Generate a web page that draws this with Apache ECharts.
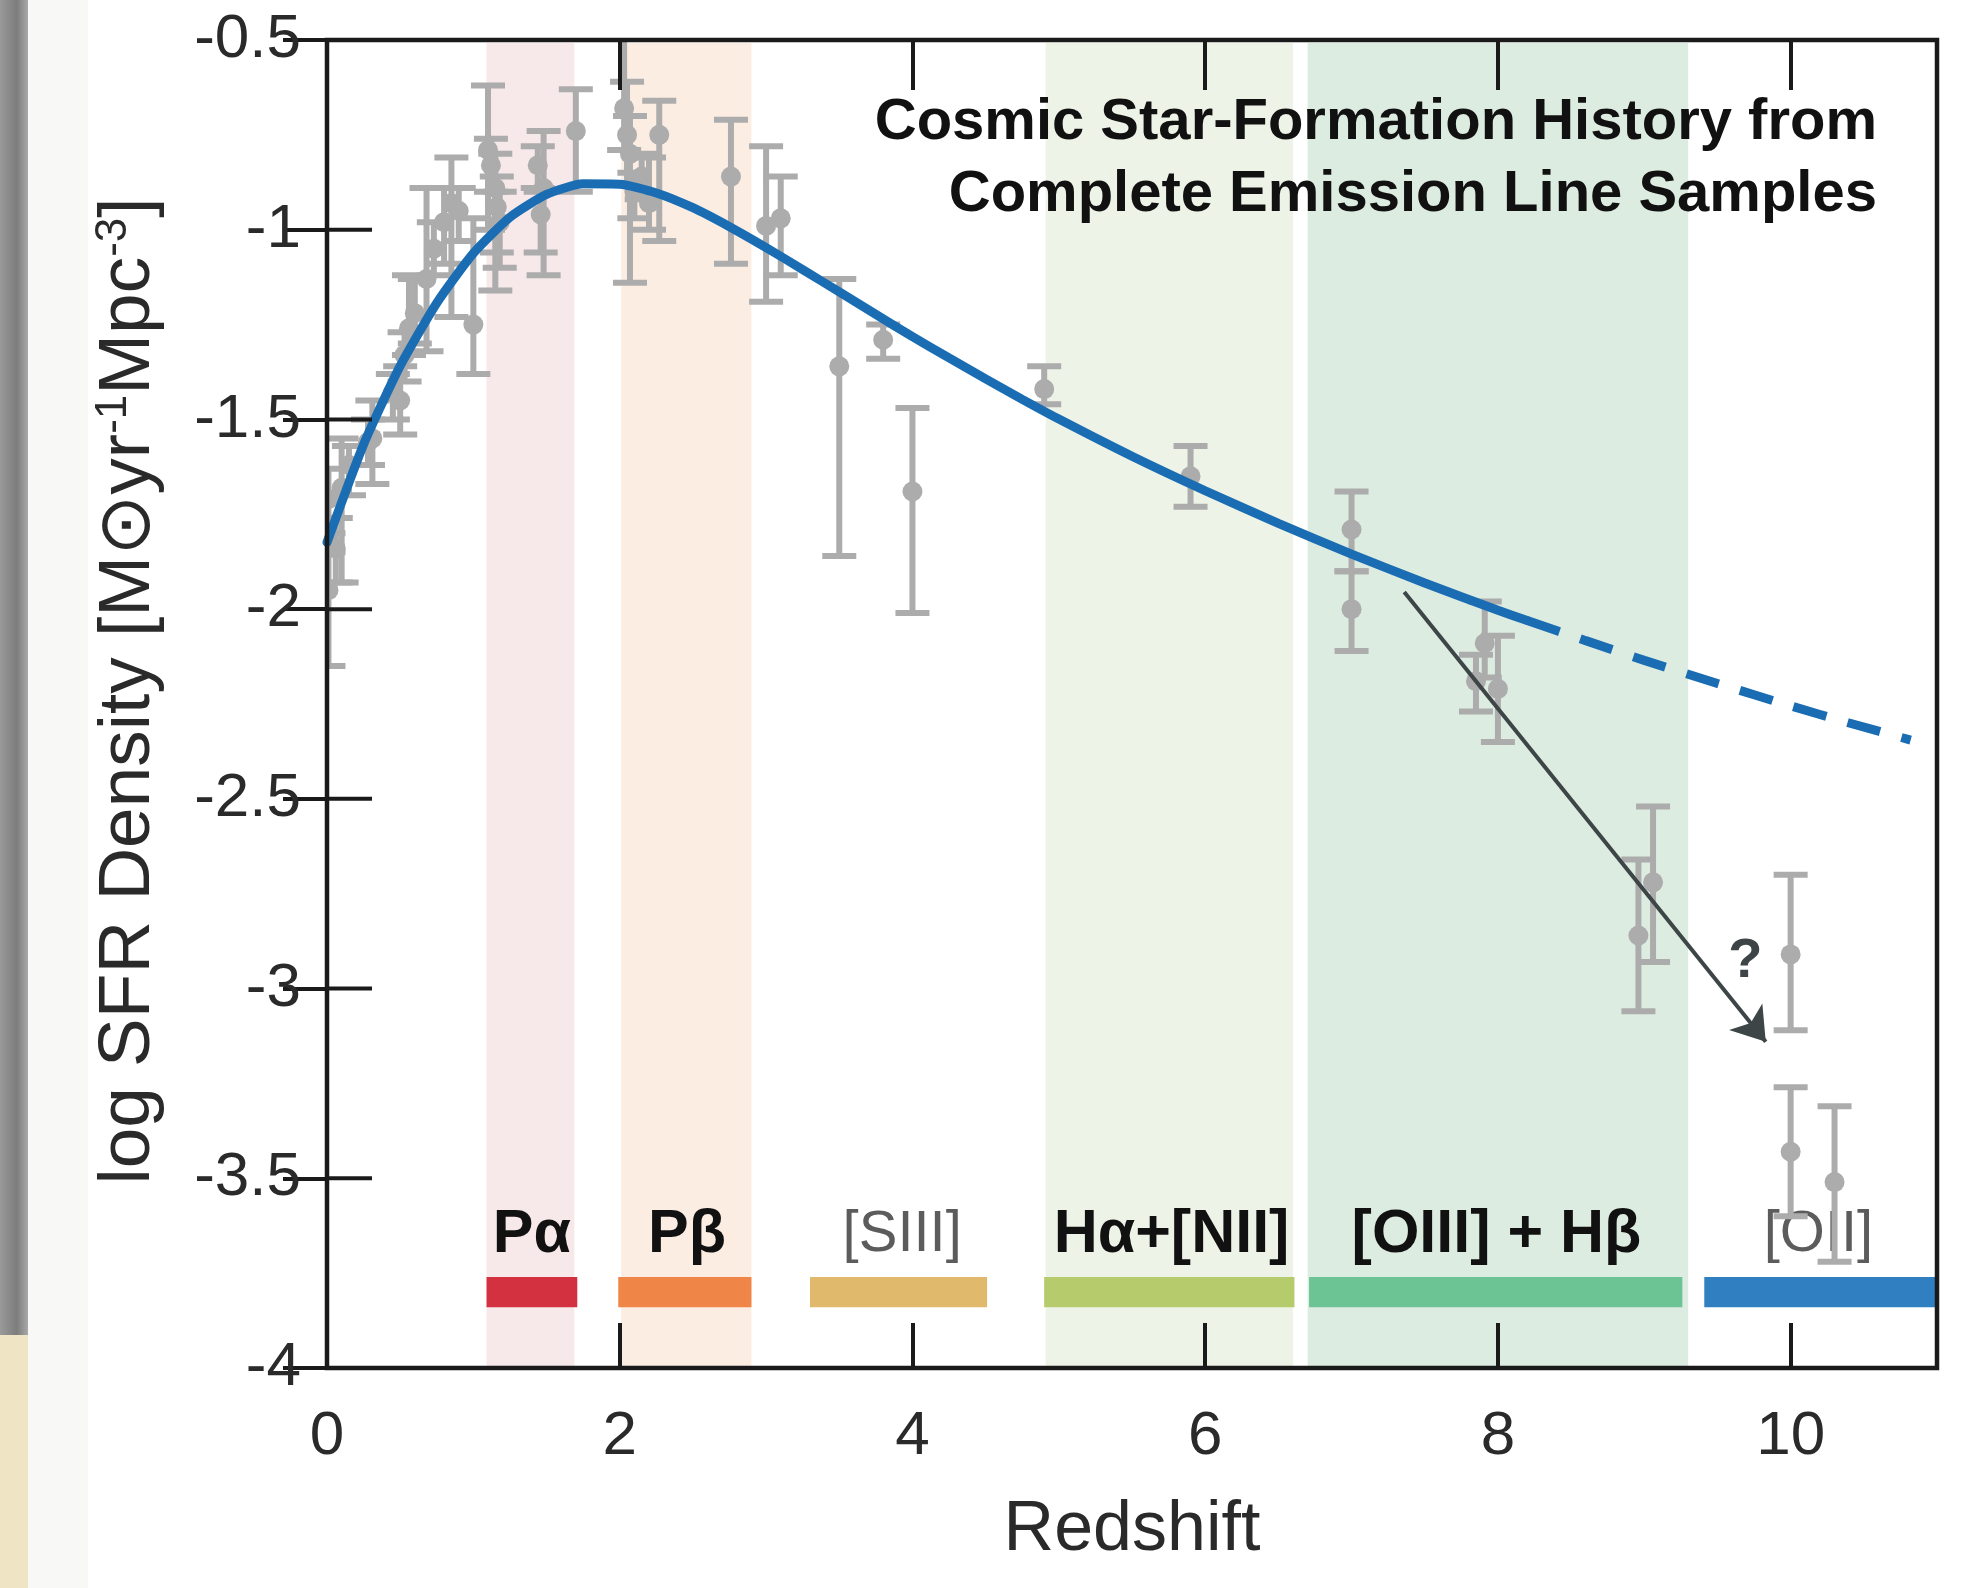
<!DOCTYPE html>
<html>
<head>
<meta charset="utf-8">
<script src="https://cdn.jsdelivr.net/npm/echarts@6/dist/echarts.min.js"></script>
<style>
html,body{margin:0;padding:0;background:#ffffff;}
#chart{width:1972px;height:1588px;}
</style>
</head>
<body>
<div id="chart"></div>
<script>
// ---------- data ----------
const xTickValues = [0, 2, 4, 6, 8, 10];
const yTickValues = [-0.5, -1, -1.5, -2, -2.5, -3, -3.5, -4];

// fitted cosmic SFR density curve (solid part, then dashed extrapolation)
const curveSolidZ  = [0, 0.25, 0.5, 0.75, 1.0, 1.25, 1.5, 1.75, 2.0, 2.25, 2.5, 2.75, 3.0, 3.25, 3.5, 3.75, 4.0, 4.25, 4.5, 4.75, 5.0, 5.5, 6.0, 6.5, 7.0, 7.5, 8.0, 8.2];
const curveSolidY  = [-1.824, -1.566, -1.359, -1.193, -1.062, -0.967, -0.907, -0.879, -0.880, -0.903, -0.942, -0.992, -1.047, -1.105, -1.164, -1.223, -1.282, -1.338, -1.393, -1.447, -1.499, -1.597, -1.688, -1.774, -1.855, -1.931, -2.003, -2.030];
const curveDashedZ = [8.2, 8.6, 9.0, 9.5, 10.0, 10.4, 10.82];
const curveDashedY = [-2.030, -2.083, -2.135, -2.196, -2.255, -2.300, -2.345];

// observations: redshift, value, upper end of error bar, lower end of error bar
const obsZ     = [0.01, 0.01, 0.06, 0.10, 0.15, 0.28, 0.31, 0.45, 0.50, 0.53, 0.56, 0.60, 0.68, 0.73, 0.80, 0.85, 0.90, 1.00, 1.10, 1.12, 1.15, 1.16, 1.18, 1.44, 1.46, 1.48, 1.70, 2.03, 2.05, 2.07, 2.10, 2.15, 2.20, 2.27, 2.76, 3.00, 3.10, 3.50, 3.80, 4.00, 4.90, 5.90, 7.00, 7.00, 7.85, 7.91, 8.00, 8.96, 9.06, 10.00, 10.00, 10.30];
const obsVal   = [-1.71, -1.95, -1.84, -1.68, -1.62, -1.56, -1.55, -1.43, -1.45, -1.33, -1.26, -1.22, -1.13, -1.05, -0.98, -0.93, -0.95, -1.25, -0.79, -0.83, -0.89, -0.94, -0.98, -0.83, -0.96, -0.89, -0.74, -0.68, -0.75, -0.80, -0.90, -0.86, -0.93, -0.75, -0.86, -0.99, -0.97, -1.36, -1.29, -1.69, -1.42, -1.65, -1.79, -2.00, -2.19, -2.09, -2.21, -2.86, -2.72, -2.91, -3.43, -3.51];
const obsUpper = [-1.63, -1.85, -1.76, -1.55, -1.57, -1.50, -1.45, -1.38, -1.36, -1.27, -1.12, -1.13, -0.89, -0.98, -0.89, -0.81, -0.89, -0.97, -0.62, -0.76, -0.80, -0.86, -0.90, -0.78, -0.90, -0.74, -0.63, -0.49, -0.61, -0.70, -0.85, -0.80, -0.81, -0.66, -0.71, -0.78, -0.86, -1.13, -1.25, -1.47, -1.36, -1.57, -1.69, -1.90, -2.12, -1.98, -2.07, -2.66, -2.52, -2.70, -3.26, -3.31];
const obsLower = [-1.80, -2.15, -1.93, -1.93, -1.70, -1.62, -1.67, -1.50, -1.54, -1.40, -1.33, -1.30, -1.32, -1.12, -1.09, -1.23, -1.03, -1.38, -1.00, -0.90, -1.16, -1.06, -1.10, -0.89, -1.06, -1.12, -0.90, -0.79, -0.88, -1.14, -0.97, -0.92, -1.00, -1.03, -1.09, -1.19, -1.12, -1.86, -1.34, -2.01, -1.46, -1.73, -1.90, -2.11, -2.27, -2.18, -2.35, -3.06, -2.93, -3.11, -3.60, -3.72];

// redshift windows of each emission line (shaded bands and coloured bars)
const lineNames    = ['Pα', 'Pβ', '[SIII]', 'Hα+[NII]', '[OIII] + Hβ', '[OII]'];
const lineBarStart = [1.09, 1.99, 3.30, 4.90, 6.71, 9.41];
const lineBarEnd   = [1.71, 2.90, 4.51, 6.61, 9.26, 11.0];
const lineLabelZ   = [1.40, 2.46, 3.93, 5.77, 7.99, 10.19];
const lineLabelY   = [-3.65, -3.65, -3.65, -3.65, -3.65, -3.65];
const lineBarY     = [-3.76, -3.84];

const shadeStart = [1.09, 2.01, 4.91, 6.70];
const shadeEnd   = [1.69, 2.90, 6.60, 9.30];

// the "?" arrow
const arrowStart = [7.36, -1.955];
const arrowEnd   = [9.83, -3.14];
const questionAt = [9.69, -2.93];

// ---------- styles ----------
const barColors   = ['#d3313f', '#ef8546', '#e0b96c', '#b6cb6c', '#6cc393', '#2f7fc1'];
const shadeColors = ['#f7e8ea', '#fcede3', '#eef3e7', '#ddece0'];
const labelIsBold = [true, true, false, true, true, false];
const FONT = '"Liberation Sans", Arial, Helvetica, "DejaVu Sans", sans-serif';
const INK = '#1a1a1a';
const TXT = '#2a2a2a';
const GRAY_PT = '#acacac';
const TICK_LEN = 45;

const chart = echarts.init(document.getElementById('chart'), null, {renderer: 'canvas'});

const errData = obsZ.map((z, i) => [z, obsVal[i], obsUpper[i], obsLower[i]]);
const shadeData = shadeStart.map((s, i) => [s, shadeEnd[i], i]);
const barData = lineBarStart.map((s, i) => [s, lineBarEnd[i], i]);
const labelData = lineLabelZ.map((z, i) => [z, lineLabelY[i], i]);
const leftTickData = yTickValues.filter(v => v > -4 && v < -0.5).map(v => [0, v]);

function renderShade(params, api) {
  const i = api.value(2);
  const p0 = api.coord([api.value(0), -0.5]);
  const p1 = api.coord([api.value(1), -4]);
  return {type: 'rect', shape: {x: p0[0], y: p0[1] + 3, width: p1[0] - p0[0], height: p1[1] - p0[1] - 3},
          style: {fill: shadeColors[i]}};
}
function renderBar(params, api) {
  const i = api.value(2);
  const p0 = api.coord([api.value(0), lineBarY[0]]);
  const p1 = api.coord([api.value(1), lineBarY[1]]);
  return {type: 'rect', shape: {x: p0[0], y: p0[1], width: p1[0] - p0[0], height: p1[1] - p0[1]},
          style: {fill: barColors[i]}};
}
function renderLabel(params, api) {
  const i = api.value(2);
  const p = api.coord([api.value(0), api.value(1)]);
  return {type: 'text', x: p[0], y: p[1],
          style: {text: lineNames[i], fill: labelIsBold[i] ? '#111111' : '#5c5c5c',
                  fontSize: labelIsBold[i] ? 61 : 58, fontWeight: labelIsBold[i] ? 'bold' : 'normal', fontFamily: FONT,
                  align: 'center', verticalAlign: 'middle'}};
}
function renderErr(params, api) {
  const z = api.value(0);
  const p = api.coord([z, api.value(1)]);
  const ph = api.coord([z, api.value(2)]);
  const pl = api.coord([z, api.value(3)]);
  const cap = 17;
  const st = {stroke: GRAY_PT, lineWidth: 6, fill: null, blend: 'multiply'};
  return {type: 'group', children: [
    {type: 'line', shape: {x1: ph[0], y1: ph[1], x2: pl[0], y2: pl[1]}, style: st},
    {type: 'line', shape: {x1: ph[0] - cap, y1: ph[1], x2: ph[0] + cap, y2: ph[1]}, style: st},
    {type: 'line', shape: {x1: pl[0] - cap, y1: pl[1], x2: pl[0] + cap, y2: pl[1]}, style: st},
    {type: 'circle', shape: {cx: p[0], cy: p[1], r: 10}, style: {fill: GRAY_PT, stroke: null, blend: 'multiply'}}
  ]};
}
function renderQuestion(params, api) {
  const p = api.coord([api.value(0), api.value(1)]);
  return {type: 'text', x: p[0], y: p[1],
          style: {text: '?', fill: '#3d4547', fontSize: 56, fontWeight: 'bold', fontFamily: FONT,
                  align: 'center', verticalAlign: 'middle'}};
}
// left-axis inward ticks, placed through the y scale at each tick value
function renderLeftTick(params, api) {
  const p = api.coord([api.value(0), api.value(1)]);
  return {type: 'line', shape: {x1: p[0], y1: p[1], x2: p[0] + TICK_LEN, y2: p[1]},
          style: {stroke: INK, lineWidth: 4, fill: null}};
}

const tickStyle = {color: INK, width: 4};

const option = {
  backgroundColor: '#ffffff',
  animation: false,
  grid: {left: 327, right: 35, top: 40, bottom: 220, show: true, borderColor: INK, borderWidth: 4.5, backgroundColor: 'transparent', z: 10},
  xAxis: [
    {type: 'value', position: 'bottom', min: 0, max: 11, interval: 2,
     splitLine: {show: false}, axisLine: {show: false},
     axisTick: {show: true, inside: true, length: 45, lineStyle: tickStyle},
     axisLabel: {show: true, margin: 38, fontSize: 62, color: TXT, fontFamily: FONT,
                 showMaxLabel: false,
                 formatter: v => (xTickValues.indexOf(v) >= 0 ? String(v) : '')},
     name: 'Redshift', nameLocation: 'middle', nameGap: 128,
     nameTextStyle: {fontSize: 70, color: TXT, fontFamily: FONT}, z: 10},
    {type: 'value', position: 'top', min: 0, max: 11, interval: 2,
     splitLine: {show: false}, axisLine: {show: false}, axisLabel: {show: false},
     axisTick: {show: true, inside: true, length: 50, lineStyle: tickStyle}, z: 10}
  ],
  yAxis: [
    {type: 'value', position: 'left', min: -4, max: -0.5, interval: 0.5,
     splitLine: {show: false}, axisLine: {show: false},
     axisTick: {show: false},
     axisLabel: {show: true, margin: 26, fontSize: 62, color: TXT, fontFamily: FONT,
                 formatter: v => (yTickValues.indexOf(v) >= 0 ? String(v) : '')},
     name: 'log SFR Density [M⊙yr{s|-1}Mpc{s|-3}]', nameLocation: 'middle', nameGap: 162, nameRotate: 90,
     nameTextStyle: {fontSize: 73, color: TXT, fontFamily: FONT, padding: [0, 0, 0, 26],
                     rich: {s: {fontSize: 44, color: TXT, fontFamily: FONT, verticalAlign: 'top', lineHeight: 44}}}, z: 10},
    {type: 'value', position: 'right', min: -4, max: -0.5, interval: 0.5,
     splitLine: {show: false}, axisLine: {show: false}, axisLabel: {show: false},
     axisTick: {show: true, inside: true, length: 44, lineStyle: tickStyle}, z: 10}
  ],
  graphic: [
    {type: 'rect', left: 0, top: 0, shape: {width: 28, height: 1335},
     style: {fill: new echarts.graphic.LinearGradient(0, 0, 1, 0, [{offset: 0, color: '#9a9a9a'}, {offset: 0.6, color: '#7d7d7d'}, {offset: 1, color: '#a8a8a8'}])}, silent: true, z: -10},
    {type: 'rect', left: 0, top: 1335, shape: {width: 28, height: 253}, style: {fill: '#efe4c3'}, silent: true, z: -10},
    {type: 'rect', left: 28, top: 0, shape: {width: 60, height: 1588}, style: {fill: '#f8f8f7'}, silent: true, z: -10},
    {type: 'text', x: 1877, y: 123, z: 20,
     style: {text: 'Cosmic Star-Formation History from', fill: '#111111', fontSize: 58, fontWeight: 'bold', fontFamily: FONT, align: 'right', verticalAlign: 'middle'}},
    {type: 'text', x: 1877, y: 195, z: 20,
     style: {text: 'Complete Emission Line Samples', fill: '#111111', fontSize: 58, fontWeight: 'bold', fontFamily: FONT, align: 'right', verticalAlign: 'middle'}}
  ],
  series: [
    {type: 'custom', name: 'shade', xAxisIndex: 0, yAxisIndex: 0, renderItem: renderShade, data: shadeData, z: 0, silent: true},
    {type: 'custom', name: 'bars', xAxisIndex: 0, yAxisIndex: 0, renderItem: renderBar, data: barData, z: 2, silent: true},
    {type: 'custom', name: 'labels', xAxisIndex: 0, yAxisIndex: 0, renderItem: renderLabel, data: labelData, z: 3, silent: true},
    {type: 'custom', name: 'obs', xAxisIndex: 0, yAxisIndex: 0, renderItem: renderErr, data: errData, z: 4, silent: true, clip: true},
    {type: 'line', name: 'fit', xAxisIndex: 0, yAxisIndex: 0, data: curveSolidZ.map((z, i) => [z, curveSolidY[i]]),
     smooth: 0.2, showSymbol: false, symbol: 'none', lineStyle: {color: '#1b6db3', width: 9, cap: 'round'}, z: 6, silent: true},
    {type: 'line', name: 'fitExtrap', xAxisIndex: 0, yAxisIndex: 0, data: curveDashedZ.map((z, i) => [z, curveDashedY[i]]),
     smooth: 0.2, showSymbol: false, symbol: 'none', lineStyle: {color: '#1b6db3', width: 9, type: [34, 22]}, z: 6, silent: true},
    {type: 'lines', coordinateSystem: 'cartesian2d', xAxisIndex: 0, yAxisIndex: 0,
     data: [{coords: [arrowStart, arrowEnd]}], symbol: ['none', 'arrow'], symbolSize: 32,
     lineStyle: {color: '#3d4547', width: 4, opacity: 1, curveness: 0}, z: 8, silent: true},
    {type: 'custom', name: 'question', xAxisIndex: 0, yAxisIndex: 0, renderItem: renderQuestion, data: [questionAt], z: 8, silent: true},
    {type: 'custom', name: 'leftTicks', xAxisIndex: 0, yAxisIndex: 0, renderItem: renderLeftTick, data: leftTickData, z: 12, silent: true, clip: false}
  ]
};
chart.setOption(option);
</script>
</body>
</html>
